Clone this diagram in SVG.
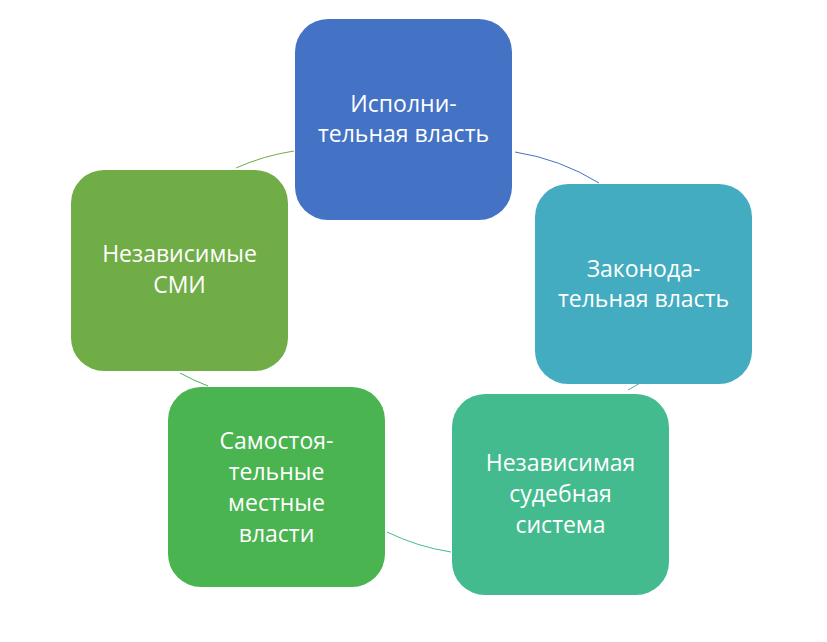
<svg xmlns="http://www.w3.org/2000/svg" width="827" height="642" viewBox="0 0 827 642">
  <style>
    .box { stroke: none; }
    .lbl { font-family: "Open Sans", "Liberation Sans", sans-serif; font-size: 23px; fill: #ffffff; text-anchor: middle; }
    .arc { fill: none; stroke-width: 1; }
  </style>
  <rect width="827" height="642" fill="#ffffff"/>
  <g id="connectors">
    <path class="arc" d="M 515 152 A 225 225 0 0 1 599 183" stroke="#4472C4"/>
    <path class="arc" d="M 640 383 A 225 225 0 0 1 628 390" stroke="#43ACC0"/>
    <path class="arc" d="M 451 552 A 225 225 0 0 1 387 532" stroke="#44BB8E"/>
    <path class="arc" d="M 208 386 A 225 225 0 0 1 180 373" stroke="#4AB451"/>
    <path class="arc" d="M 236 168 A 225 225 0 0 1 294 151" stroke="#70AD47"/>
  </g>
  <g id="node-executive">
    <rect class="box" x="295" y="19" width="217" height="201" rx="33" fill="#4472C4"/>
    <text class="lbl" x="403.5" y="112">Исполни-</text>
    <text class="lbl" x="403.5" y="142">тельная власть</text>
  </g>
  <g id="node-legislative">
    <rect class="box" x="535" y="184" width="217" height="200" rx="33" fill="#43ACC0"/>
    <text class="lbl" x="643.5" y="277">Законода-</text>
    <text class="lbl" x="643.5" y="307">тельная власть</text>
  </g>
  <g id="node-judicial">
    <rect class="box" x="452" y="394" width="217" height="201" rx="33" fill="#44BB8E"/>
    <text class="lbl" x="560.5" y="471">Независимая</text>
    <text class="lbl" x="560.5" y="502">судебная</text>
    <text class="lbl" x="560.5" y="533">система</text>
  </g>
  <g id="node-local">
    <rect class="box" x="168" y="387" width="217" height="200" rx="33" fill="#4AB451"/>
    <text class="lbl" x="276.5" y="449">Самостоя-</text>
    <text class="lbl" x="276.5" y="480">тельные</text>
    <text class="lbl" x="276.5" y="511">местные</text>
    <text class="lbl" x="276.5" y="542">власти</text>
  </g>
  <g id="node-media">
    <rect class="box" x="71" y="170" width="217" height="201" rx="33" fill="#70AD47"/>
    <text class="lbl" x="179.5" y="262">Независимые</text>
    <text class="lbl" x="179.5" y="293">СМИ</text>
  </g>
</svg>
